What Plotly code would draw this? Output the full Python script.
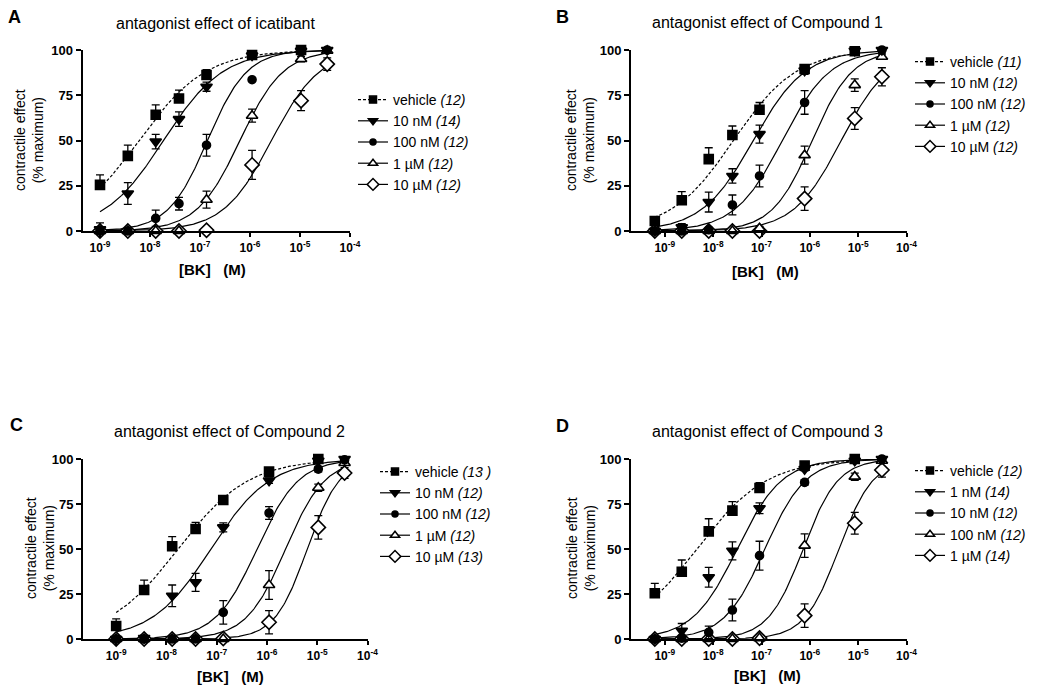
import numpy as np
import plotly.graph_objects as go

W, H = 1037, 687          # browser window
OFF = 8                   # default page margin around the plot div
FONT = "Liberation Sans, Arial, sans-serif"

# ---------------- data ----------------
# BK concentrations (M) as read off the x positions of the points
bk_AC = [1e-9, 3.6e-9, 1.3e-8, 3.8e-8, 1.35e-7, 1.1e-6, 1.05e-5, 3.5e-5]
bk_BD = [6.2e-10, 2.24e-9, 8.1e-9, 2.5e-8, 9.1e-8, 7.8e-7, 8.5e-6, 3.1e-5]

titles = ["antagonist effect of icatibant", "antagonist effect of Compound 1",
          "antagonist effect of Compound 2", "antagonist effect of Compound 3"]
letters = ["A", "B", "C", "D"]

labels_A = ["vehicle <i>(12)</i>", "10 nM <i>(14)</i>", "100 nM <i>(12)</i>", "1 µM <i>(12)</i>", "10 µM <i>(12)</i>"]
labels_B = ["vehicle <i>(11)</i>", "10 nM <i>(12)</i>", "100 nM <i>(12)</i>", "1 µM <i>(12)</i>", "10 µM <i>(12)</i>"]
labels_C = ["vehicle <i>(13 )</i>", "10 nM <i>(12)</i>", "100 nM <i>(12)</i>", "1 µM <i>(12)</i>", "10 µM <i>(13)</i>"]
labels_D = ["vehicle <i>(12)</i>", "1 nM <i>(14)</i>", "10 nM <i>(12)</i>", "100 nM <i>(12)</i>", "1 µM <i>(14)</i>"]

# mean contractile effect (% maximum) per series
mean_A = [[25.5, 41.5, 64.2, 73.2, 86.2, 97.2, 100],
          [1, 20.7, 49.4, 61.8, 79.7, 97, 99.5, 100],
          [0, 0, 7, 15.1, 47.4, 83.6, 99, 100],
          [0, 0, 0, 0, 17.3, 63.7, 95, 99.6],
          [0, 0, 0, 0, 0.4, 36.5, 72, 92.2]]
sem_A = [[5.5, 6, 5.5, 4.6, 3, 1, None],
         [3.5, 6, 4, 4, 2.5, None, None, None],
         [None, None, 4.5, 3.5, 6, None, None, None],
         [None, None, None, None, 4.7, 3.6, 1.5, None],
         [None, None, None, None, None, 8, 5.5, 3.5]]

mean_B = [[5.5, 17, 39.7, 53, 67, 89.5, 99.3],
          [0, 2, 16, 30.4, 53.5, 88.6, 99.6, 100],
          [0, 0, 0.7, 14.4, 30.4, 71, 99.6, 100],
          [0, 0, 0, 0, 1.5, 41.9, 80.6, 96.3],
          [0, 0, 0, 0, 0, 17.9, 62.2, 85.2]]
sem_B = [[1.5, 4.8, 6.3, 5, 4, 1, None],
         [None, 2, 5.5, 4, 5, 2, None, None],
         [None, None, None, 5.5, 6, 6.5, None, None],
         [None, None, None, None, 1, 5, 3.5, 1.5],
         [None, None, None, None, None, 6.5, 6, 5]]

mean_C = [[7.2, 27.2, 51.5, 61.1, 77.2, 93, 100],
          [0, 0.5, 24, 31.5, 62, 88, 99, 100],
          [0, 0, 0, 0, 14.8, 70, 94.4, 99.5],
          [0, 0, 0, 0, 0, 30, 84, 97.8],
          [0, 0, 0, 0, 0.3, 9.3, 62, 92.2]]
sem_C = [[4, 5.5, 5.4, 3.7, 1.5, 1, None],
         [None, 1.5, 6, 5, 2.5, 1.5, None, None],
         [None, None, None, None, 6.5, 3.5, 1.5, None],
         [None, None, None, None, None, 8, 2, 1],
         [None, None, None, None, None, 6.5, 6.5, 3]]

mean_D = [[25.4, 37.4, 59.8, 71.3, 83.9, 96.3, 100],
          [0, 4.6, 34.3, 49, 72.6, 94.4, 99, 100],
          [0, 0.5, 3.7, 16.1, 46.3, 87, 100, 100],
          [0, 0, 0, 0, 0.5, 51.9, 90.2, 99],
          [0, 0, 0, 0, 0.5, 13, 64.3, 93.9]]
sem_D = [[5.5, 6.5, 7, 5, 3, 1, None],
         [None, 4, 5.5, 5, 3, 1, None, None],
         [None, None, 3.5, 6, 8, 1.5, None, None],
         [None, None, None, None, None, 6.5, 2, 1],
         [None, None, None, None, None, 6.5, 6, 4]]

# fitted sigmoid (Hill) curves: logEC50 and Hill slope per series
logec50_A = [-8.22, -7.73, -6.85, -6.20, -5.57]
hill_A = [0.65, 0.73, 1.10, 1.00, 0.90]
logec50_B = [-7.58, -7.17, -6.57, -5.95, -5.35]
hill_B = [0.67, 0.81, 0.88, 1.05, 0.88]
logec50_C = [-7.77, -7.115, -6.20, -5.63, -5.20]
hill_C = [0.62, 0.74, 1.05, 1.11, 1.35]
logec50_D = [-8.34, -7.505, -6.93, -6.14, -5.40]
hill_D = [0.60, 0.94, 1.03, 1.20, 1.23]

x_tick_vals = [1e-9, 1e-8, 1e-7, 1e-6, 1e-5, 1e-4]
x_tick_text = ["10<sup>-9</sup>", "10<sup>-8</sup>", "10<sup>-7</sup>", "10<sup>-6</sup>",
               "10<sup>-5</sup>", "10<sup>-4</sup>"]
y_tick_vals = [0, 25, 50, 75, 100]

# ---------------- styles / layout geometry (window pixels) ----------------
symbols = ["square", "triangle-down", "circle", "triangle-up", "diamond"]
fills = ["black", "black", "black", "white", "white"]
sizes = [9, 10, 8, 10, 11]
dashes = ["3px,2px", "solid", "solid", "solid", "solid"]

panels = [
    dict(bk=bk_AC, labels=labels_A, mean=mean_A, sem=sem_A, ec=logec50_A, nh=hill_A,
         xpx=(82.5, 350), xr=(-9.35, -4), ypx=(231, 50),
         letter=(14, 17), title=(216, 23), xt=(212, 269), yt=(29, 140), leg=(395, 100)),
    dict(bk=bk_BD, labels=labels_B, mean=mean_B, sem=sem_B, ec=logec50_B, nh=hill_B,
         xpx=(631, 906.5), xr=(-9.70, -4), ypx=(231, 50),
         letter=(562, 17), title=(767, 22), xt=(765, 272), yt=(580, 140), leg=(952, 62)),
    dict(bk=bk_AC, labels=labels_C, mean=mean_C, sem=sem_C, ec=logec50_C, nh=hill_C,
         xpx=(83, 367.5), xr=(-9.66, -4), ypx=(639, 459),
         letter=(16, 425), title=(229, 431), xt=(230, 676), yt=(40, 548), leg=(417, 472)),
    dict(bk=bk_BD, labels=labels_D, mean=mean_D, sem=sem_D, ec=logec50_D, nh=hill_D,
         xpx=(631, 906.5), xr=(-9.70, -4), ypx=(639, 459),
         letter=(562, 426), title=(767, 431), xt=(767, 675), yt=(581, 548), leg=(952, 471)),
]

FW, FH = W - OFF, H - OFF


def fx(px):
    return (px - OFF) / FW


def fy(py):
    return 1 - (py - OFF) / FH


fig = go.Figure()
annotations = []
layout = {}

for i, p in enumerate(panels):
    n = i + 1
    xa = "x" if n == 1 else f"x{n}"
    ya = "y" if n == 1 else f"y{n}"
    leg = "legend" if n == 1 else f"legend{n}"

    # fitted curves
    for s in range(5):
        xs = p["bk"][:len(p["mean"][s])]
        lx = np.linspace(np.log10(xs[0]), np.log10(xs[-1]), 200)
        yy = 100.0 / (1.0 + 10 ** ((p["ec"][s] - lx) * p["nh"][s]))
        fig.add_trace(go.Scatter(x=10 ** lx, y=yy, mode="lines", xaxis=xa, yaxis=ya,
                                 line=dict(color="black", width=1.2, dash=dashes[s]),
                                 showlegend=False, hoverinfo="skip"))
    # points with SEM bars (vehicle drawn last, on top)
    for s in reversed(range(5)):
        xs = p["bk"][:len(p["mean"][s])]
        err = dict(type="data", array=p["sem"][s], color="black", thickness=1.3, width=4, visible=True)
        if s == 0:
            err["symmetric"] = False
            err["arrayminus"] = [None] * len(xs)
        fig.add_trace(go.Scatter(x=xs, y=p["mean"][s], mode="markers", xaxis=xa, yaxis=ya,
                                 marker=dict(symbol=symbols[s], size=sizes[s], color=fills[s],
                                             line=dict(color="black", width=1.6)),
                                 error_y=err, cliponaxis=False, showlegend=False))
    # legend entries
    for s in range(5):
        fig.add_trace(go.Scatter(x=[None], y=[None], mode="lines+markers", xaxis=xa, yaxis=ya,
                                 name=p["labels"][s], legend=leg,
                                 line=dict(color="black", width=1.2, dash=dashes[s]),
                                 marker=dict(symbol=symbols[s], size=sizes[s] - 2, color=fills[s],
                                             line=dict(color="black", width=1.5))))

    axkey = "xaxis" if n == 1 else f"xaxis{n}"
    aykey = "yaxis" if n == 1 else f"yaxis{n}"
    layout[axkey] = dict(type="log", range=list(p["xr"]), domain=[fx(p["xpx"][0]), fx(p["xpx"][1])],
                         anchor=ya, tickvals=x_tick_vals, ticktext=x_tick_text, automargin=False,
                         ticks="outside", ticklen=4, tickwidth=2, tickcolor="black",
                         showline=True, linewidth=2, linecolor="black", showgrid=False, zeroline=False,
                         tickfont=dict(family=FONT, size=12, color="black", weight="bold"),
                         ticklabelstandoff=1)
    layout[aykey] = dict(range=[0, 100], domain=[fy(p["ypx"][0]), fy(p["ypx"][1])], anchor=xa,
                         tickvals=y_tick_vals, ticks="outside", ticklen=5, tickwidth=2, tickcolor="black",
                         showline=True, linewidth=2, linecolor="black", showgrid=False, zeroline=False,
                         automargin=False,
                         tickfont=dict(family=FONT, size=13, color="black", weight="bold"))
    layout[leg] = dict(x=fx(p["leg"][0] - 42), y=fy(p["leg"][1] - 16), xanchor="left", yanchor="top",
                       bgcolor="rgba(0,0,0,0)", font=dict(family=FONT, size=14, color="black"),
                       itemwidth=30, tracegroupgap=0)

    annotations += [
        dict(text=letters[i], x=fx(p["letter"][0]), y=fy(p["letter"][1]), xref="paper", yref="paper",
             showarrow=False, xanchor="center", yanchor="middle", borderpad=0,
             font=dict(family=FONT, size=18, color="black", weight="bold")),
        dict(text=titles[i], x=fx(p["title"][0]), y=fy(p["title"][1]), xref="paper", yref="paper",
             showarrow=False, xanchor="center", yanchor="middle", borderpad=0,
             font=dict(family=FONT, size=16, color="black")),
        dict(text="[BK]\u00a0\u00a0\u00a0(M)", x=fx(p["xt"][0]), y=fy(p["xt"][1]), xref="paper", yref="paper",
             showarrow=False, xanchor="center", yanchor="middle",
             font=dict(family=FONT, size=15, color="black", weight="bold")),
        dict(text="contractile effect<br>(% maximum)", x=fx(p["yt"][0]), y=fy(p["yt"][1]),
             xref="paper", yref="paper", showarrow=False, xanchor="center", yanchor="middle",
             textangle=-90, font=dict(family=FONT, size=14, color="black")),
    ]

fig.update_layout(width=FW, height=FH, margin=dict(l=0, r=0, t=0, b=0, autoexpand=False),
                  paper_bgcolor="white", plot_bgcolor="white",
                  font=dict(family=FONT, color="black"),
                  annotations=annotations, **layout)

fig.write_html("out.html")
